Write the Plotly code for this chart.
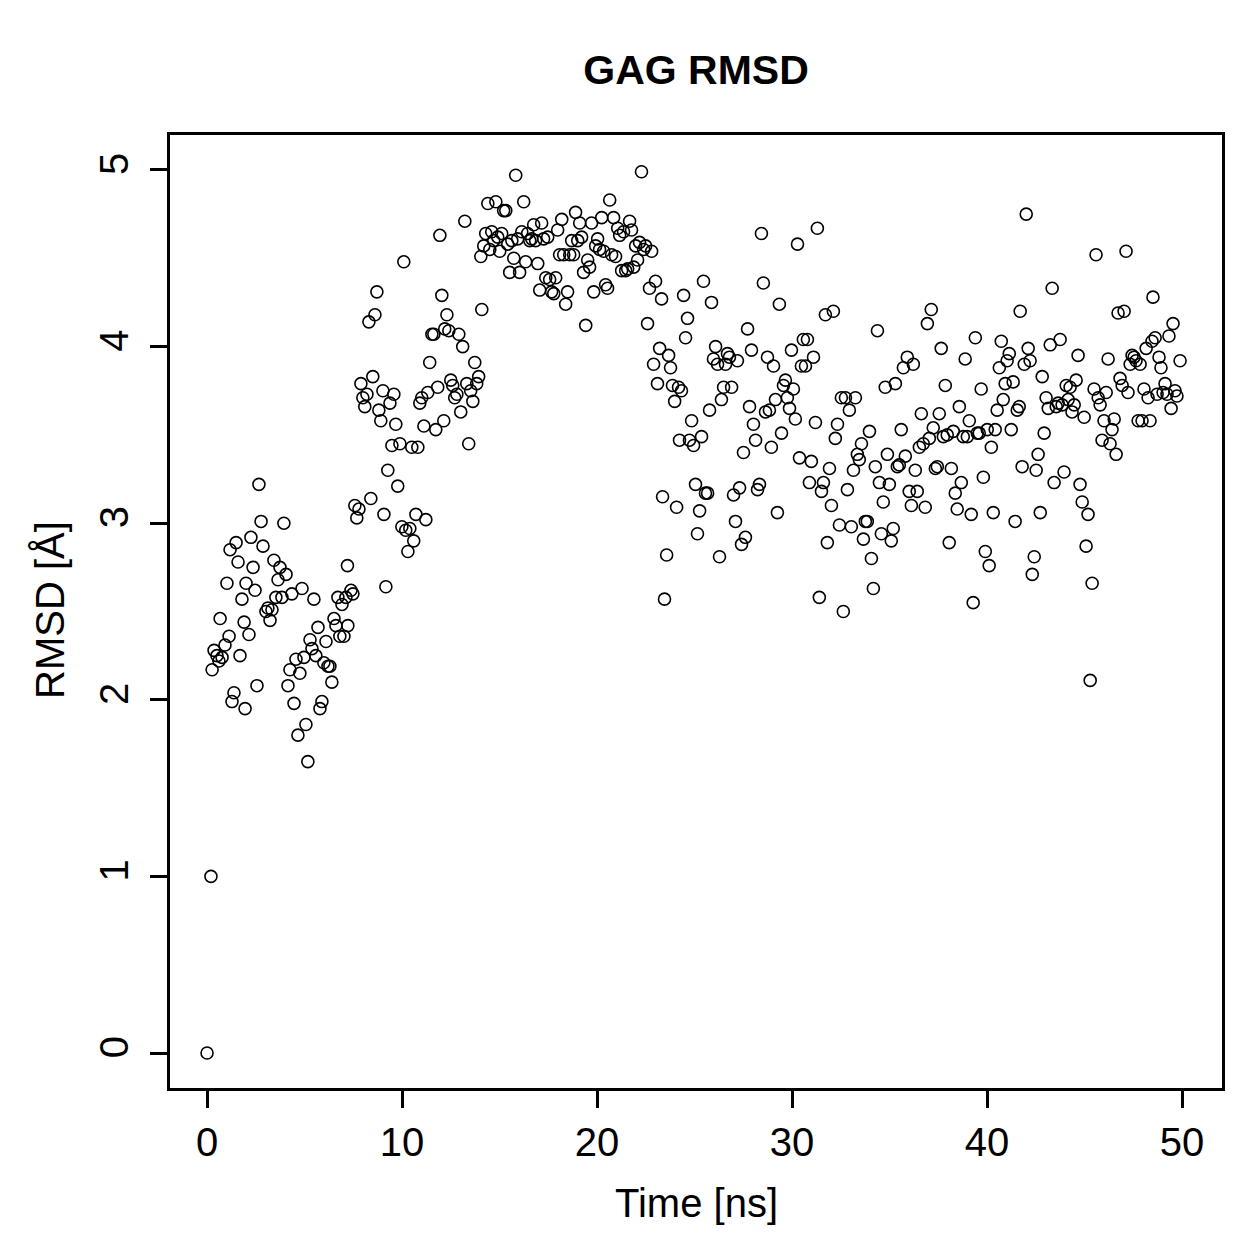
import plotly.graph_objects as go

time_ns = [
    0.00, 0.20, 0.26, 0.36, 0.51, 0.61, 0.77, 0.67, 0.92, 1.02, 1.13, 1.18, 1.28, 1.38, 1.49, 1.59, 1.69, 1.79, 1.90, 1.95,
    2.00, 2.15, 2.25, 2.36, 2.46, 2.56, 2.66, 2.77, 2.87, 3.02, 3.12, 3.23, 3.33, 3.43, 3.53, 3.64, 3.74, 3.84, 3.94, 4.05,
    4.15, 4.25, 4.35, 4.46, 4.56, 4.66, 4.76, 4.87, 4.97,
    5.07, 5.17, 5.28, 5.38, 5.48, 5.58, 5.69, 5.79, 5.89, 5.99, 6.10, 6.20, 6.30, 6.40, 6.51, 6.61, 6.71, 6.81, 6.92, 7.02,
    7.12, 7.22, 7.20, 7.38, 7.48, 7.58, 7.68, 7.79, 7.89, 7.99, 8.09, 8.20, 8.30, 8.40, 8.50, 8.61, 8.71, 8.81, 8.91, 9.02,
    9.07, 9.17, 9.27, 9.38, 9.48, 9.58, 9.68, 9.78, 9.89, 9.99, 10.09,
    10.19, 10.30, 10.40, 10.50, 10.60, 10.71, 10.81, 10.91, 11.01, 11.12, 11.22, 11.32, 11.42, 11.53, 11.63, 11.73, 11.83,
    11.94, 12.04, 12.14, 12.19, 12.30, 12.40, 12.50, 12.60, 12.70, 12.81, 12.91, 13.01, 13.11, 13.22, 13.32, 13.42, 13.52,
    13.63, 13.73, 13.83, 13.93, 14.04, 14.09, 14.19, 14.29, 14.40, 14.50, 14.60, 14.70, 14.81, 14.91, 15.01,
    15.11, 15.21, 15.32, 15.42, 15.52, 15.63, 15.73, 15.83, 15.93, 16.03, 16.14, 16.24, 16.34, 16.44, 16.55, 16.65, 16.75,
    16.85, 16.96, 17.06, 17.16, 17.26, 17.37, 17.47, 17.57, 17.67, 17.78, 17.88, 17.98, 18.08, 18.19, 18.29, 18.39, 18.49,
    18.60, 18.70, 18.80, 18.90, 19.01, 19.11, 19.21, 19.31, 19.42, 19.52, 19.62, 19.72, 19.83, 19.93, 20.03,
    20.13, 20.24, 20.34, 20.44, 20.54, 20.65, 20.75, 20.85, 20.95, 21.06, 21.16, 21.26, 21.36, 21.47, 21.57, 21.67, 21.77,
    21.88, 21.98, 22.08, 22.18, 22.28, 22.39, 22.49, 22.59, 22.69, 22.80, 22.90, 23.00, 23.10, 23.21, 23.31, 23.36, 23.46,
    23.57, 23.67, 23.77, 23.87, 23.98, 24.08, 24.18, 24.23, 24.33, 24.44, 24.54, 24.64, 24.74, 24.85, 24.95,
    25.05, 25.15, 25.26, 25.36, 25.46, 25.56, 25.67, 25.77, 25.87, 25.97, 26.08, 26.18, 26.28, 26.38, 26.49, 26.59, 26.69,
    26.79, 26.90, 27.00, 27.10, 27.20, 27.31, 27.41, 27.51, 27.61, 27.72, 27.82, 27.92, 28.02, 28.13, 28.23, 28.33, 28.43,
    28.53, 28.64, 28.74, 28.84, 28.94, 29.05, 29.15, 29.25, 29.35, 29.46, 29.56, 29.66, 29.76, 29.87, 29.97,
    30.07, 30.17, 30.28, 30.38, 30.48, 30.58, 30.69, 30.79, 30.89, 30.99, 31.10, 31.20, 31.30, 31.40, 31.51, 31.61, 31.71,
    31.81, 31.92, 32.02, 32.12, 32.22, 32.33, 32.43, 32.53, 32.63, 32.74, 32.84, 32.94, 33.04, 33.15, 33.25, 33.35, 33.45,
    33.56, 33.66, 33.76, 33.86, 33.97, 34.07, 34.17, 34.27, 34.38, 34.48, 34.58, 34.68, 34.78, 34.89,
    34.99, 35.09, 35.19, 35.30, 35.40, 35.50, 35.60, 35.71, 35.81, 35.91, 36.01, 36.12, 36.22, 36.32, 36.42, 36.53, 36.63,
    36.73, 36.83, 36.94, 37.04, 37.14, 37.24, 37.35, 37.45, 37.55, 37.65, 37.76, 37.86, 37.96, 38.06, 38.17, 38.27, 38.37,
    38.47, 38.58, 38.68, 38.78, 38.88, 38.99, 39.09, 39.19, 39.29, 39.40, 39.50, 39.60, 39.70, 39.81, 39.91,
    40.01, 40.11, 40.22, 40.32, 40.42, 40.52, 40.63, 40.73, 40.83, 40.93, 41.03, 41.14, 41.24, 41.34, 41.44, 41.55, 41.65,
    41.70, 41.80, 41.91, 42.01, 42.11, 42.21, 42.32, 42.42, 42.52, 42.62, 42.73, 42.83, 42.93, 43.03, 43.14, 43.24, 43.34,
    43.44, 43.55, 43.65, 43.75, 43.85, 43.95, 44.06, 44.16, 44.26, 44.36, 44.47, 44.57, 44.67, 44.77, 44.88, 44.98,
    45.08, 45.18, 45.29, 45.39, 45.49, 45.59, 45.70, 45.80, 45.90, 46.00, 46.11, 46.21, 46.31, 46.41, 46.52, 46.62, 46.72,
    46.82, 46.93, 47.03, 47.13, 47.23, 47.34, 47.44, 47.54, 47.64, 47.75, 47.85, 47.95, 48.05, 48.16, 48.26, 48.36, 48.46,
    48.51, 48.62, 48.72, 48.82, 48.92, 49.03, 49.13, 49.23, 49.33, 49.44, 49.54, 49.64, 49.74, 49.90,
]

rmsd = [
    0.00, 1.00, 2.17, 2.28, 2.25, 2.22, 2.24, 2.46, 2.31, 2.66, 2.36, 2.85, 1.99, 2.04, 2.89, 2.78, 2.25, 2.57, 2.44, 1.95,
    2.66, 2.37, 2.92, 2.75, 2.62, 2.08, 3.22, 3.01, 2.87, 2.50, 2.52, 2.45, 2.51, 2.79, 2.58, 2.68, 2.75, 2.58, 3.00, 2.71,
    2.08, 2.17, 2.60, 1.98, 2.23, 1.80, 2.15, 2.63, 2.24,
    1.86, 1.65, 2.34, 2.29, 2.57, 2.25, 2.41, 1.95, 1.99, 2.21, 2.33, 2.19, 2.19, 2.10, 2.46, 2.42, 2.58, 2.36, 2.54, 2.36,
    2.58, 2.42, 2.76, 2.62, 2.60, 3.10, 3.03, 3.08, 3.79, 3.71, 3.66, 3.73, 4.14, 3.14, 3.83, 4.18, 4.31, 3.64, 3.58, 3.75,
    3.05, 2.64, 3.30, 3.68, 3.44, 3.73, 3.56, 3.21, 3.45, 2.98, 4.48,
    2.96, 2.84, 2.97, 3.43, 2.90, 3.05, 3.43, 3.68, 3.71, 3.55, 3.02, 3.74, 3.91, 4.07, 4.07, 3.53, 3.77,
    4.63, 4.29, 3.58, 4.10, 4.18, 4.09, 3.81, 3.78, 3.71, 3.73, 4.07, 3.63, 4.00, 4.71, 3.79, 3.45, 3.75,
    3.69, 3.91, 3.79, 3.83, 4.51, 4.21, 4.57, 4.64, 4.81, 4.55, 4.65, 4.60, 4.82, 4.62, 4.54,
    4.64, 4.77, 4.77, 4.58, 4.42, 4.60, 4.50, 4.97, 4.61, 4.42, 4.65, 4.82, 4.48, 4.64, 4.60, 4.61, 4.69,
    4.60, 4.47, 4.32, 4.70, 4.61, 4.39, 4.62, 4.38, 4.31, 4.30, 4.39, 4.66, 4.52, 4.72, 4.52, 4.24, 4.31,
    4.52, 4.60, 4.52, 4.76, 4.60, 4.70, 4.62, 4.42, 4.12, 4.49, 4.45, 4.70, 4.31, 4.57, 4.61,
    4.55, 4.73, 4.54, 4.35, 4.33, 4.83, 4.52, 4.73, 4.51, 4.67, 4.63, 4.43, 4.65, 4.43, 4.44, 4.71, 4.66,
    4.45, 4.57, 4.49, 4.59, 4.99, 4.55, 4.57, 4.13, 4.33, 4.54, 3.90, 4.37, 3.79, 3.99, 4.27, 3.15, 2.57,
    2.82, 3.95, 3.88, 3.78, 3.69, 3.09, 3.77, 3.47, 3.75, 4.29, 4.05, 4.16, 3.47, 3.58, 3.44,
    3.22, 2.94, 3.07, 3.49, 4.37, 3.17, 3.17, 3.64, 4.25, 3.93, 4.00, 3.90, 2.81, 3.70, 3.77, 3.90, 3.96,
    3.94, 3.77, 3.16, 3.01, 3.92, 3.20, 2.88, 3.40, 2.92, 4.10, 3.66, 3.98, 3.56, 3.47, 3.19, 3.22, 4.64,
    4.36, 3.63, 3.94, 3.64, 3.43, 3.89, 3.70, 3.06, 4.24, 3.51, 3.78, 3.81, 3.71, 3.65, 3.98,
    3.76, 3.59, 4.58, 3.37, 3.89, 4.04, 3.89, 4.04, 3.23, 3.35, 3.94, 3.57, 4.67, 2.58, 3.18, 3.23, 4.18,
    2.89, 3.31, 3.10, 4.20, 3.48, 3.56, 2.99, 3.71, 2.50, 3.71, 3.19, 3.64, 2.98, 3.30, 3.71, 3.39, 3.36,
    3.45, 2.91, 3.01, 3.01, 3.52, 2.80, 2.63, 3.32, 4.09, 3.23, 2.94, 3.12, 3.77, 3.39,
    3.22, 2.90, 2.97, 3.79, 3.32, 3.33, 3.53, 3.88, 3.38, 3.94, 3.18, 3.10, 3.90, 3.30, 3.18, 3.43, 3.62,
    3.45, 3.09, 4.13, 3.48, 4.21, 3.54, 3.31, 3.32, 3.62, 3.99, 3.49, 3.78, 3.50, 2.89, 3.31, 3.52, 3.17,
    3.08, 3.66, 3.23, 3.49, 3.93, 3.49, 3.58, 3.05, 2.55, 4.05, 3.51, 3.51, 3.76, 3.26, 2.84,
    3.53, 2.76, 3.43, 3.06, 3.53, 3.64, 3.88, 4.03, 3.70, 3.79, 3.92, 3.96, 3.53, 3.80, 3.01, 3.64, 3.66,
    4.20, 3.32, 3.90, 4.75, 3.99, 3.92, 2.71, 2.81, 3.30, 3.39, 3.06, 3.83, 3.51, 3.71, 3.65, 4.01, 4.33,
    3.23, 3.66, 3.68, 4.04, 3.67, 3.29, 3.78, 3.70, 3.77, 3.63, 3.67, 3.81, 3.95, 3.22, 3.12, 3.60,
    2.87, 3.05, 2.11, 2.66, 3.76, 4.52, 3.71, 3.67, 3.47, 3.58, 3.74, 3.93, 3.45, 3.53, 3.59, 3.39, 4.19,
    3.82, 3.78, 4.20, 4.54, 3.74, 3.90, 3.95, 3.94, 3.92, 3.58, 3.90, 3.58, 3.76, 3.99, 3.71, 3.58, 4.03,
    4.28, 4.05, 3.73, 3.94, 3.88, 3.74, 3.79, 3.73, 4.06, 3.65, 4.13, 3.75, 3.72, 3.92,
]

x_ticks = [0, 10, 20, 30, 40, 50]
y_ticks = [0, 1, 2, 3, 4, 5]

FONT = "Liberation Sans, Arial, Helvetica, sans-serif"

fig = go.Figure()
fig.add_trace(go.Scatter(
    x=time_ns, y=rmsd, mode="markers",
    marker=dict(symbol="circle-open", size=12, color="black", line=dict(width=1.6, color="black")),
    showlegend=False, hoverinfo="x+y",
))

axis_common = dict(
    showline=True, linecolor="black", linewidth=3, mirror=True,
    ticks="outside", ticklen=17, tickwidth=3, tickcolor="black",
    showgrid=False, zeroline=False,
    tickfont=dict(family=FONT, size=40, color="black"),
)

fig.update_xaxes(range=[-1.9, 52.05], tickmode="array", tickvals=x_ticks,
                 ticktext=[str(v) for v in x_ticks], **axis_common)
fig.update_yaxes(range=[-0.198, 5.198], tickmode="array", tickvals=y_ticks,
                 ticktext=[str(v) for v in y_ticks], tickangle=-90, ticklabelstandoff=6,
                 **axis_common)

fig.update_layout(
    width=1259, height=1259,
    margin=dict(l=170, r=37, t=135, b=171, autoexpand=False),
    paper_bgcolor="white", plot_bgcolor="white",
    font=dict(family=FONT, color="black"),
    title=dict(text="<b>GAG RMSD</b>", x=0.5, xanchor="center", xref="paper",
               y=1 - 70 / 1259, yanchor="middle", yref="container",
               font=dict(family=FONT, size=41, color="black")),
    annotations=[
        dict(text="Time [ns]", xref="paper", yref="paper", x=0.5, y=(1088 - 1203) / 953,
             xanchor="center", yanchor="middle", showarrow=False,
             font=dict(family=FONT, size=40, color="black")),
        dict(text="RMSD [Å]", xref="paper", yref="paper", x=(50 - 170) / 1052, y=(1088 - 610) / 953,
             xanchor="center", yanchor="middle", textangle=-90, showarrow=False,
             font=dict(family=FONT, size=40, color="black")),
    ],
)

fig.write_html("out.html")
